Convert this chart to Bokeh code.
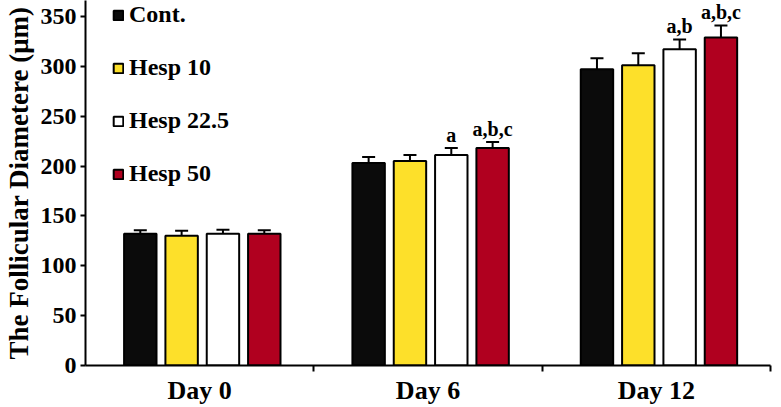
from bokeh.plotting import figure
from bokeh.models import (ColumnDataSource, Whisker, TeeHead, FixedTicker,
                          Legend, LegendItem, Range1d)
from bokeh.core.properties import value
from bokeh.embed import file_html
from bokeh.resources import INLINE

days = ["Day 0", "Day 6", "Day 12"]
groups = ["Cont.", "Hesp 10", "Hesp 22.5", "Hesp 50"]
colors = ["#0b0b0b", "#fde02a", "#ffffff", "#b0001f"]

cont_mean = [132, 203, 297]
hesp10_mean = [130, 205, 301]
hesp225_mean = [132, 211, 317]
hesp50_mean = [132, 218, 329]

cont_err = [3.5, 6, 11]
hesp10_err = [5, 6, 12]
hesp225_err = [4, 7, 10]
hesp50_err = [3.5, 6, 12]

cont_mark = ["", "", ""]
hesp10_mark = ["", "", ""]
hesp225_mark = ["", "a", "a,b"]
hesp50_mark = ["", "a,b,c", "a,b,c"]

y_ticks = [0, 50, 100, 150, 200, 250, 300, 350]

means = [cont_mean, hesp10_mean, hesp225_mean, hesp50_mean]
errs = [cont_err, hesp10_err, hesp225_err, hesp50_err]
marks = [cont_mark, hesp10_mark, hesp225_mark, hesp50_mark]

FONT = "Liberation Serif"
offsets = [-0.26, -0.079, 0.102, 0.283]
bar_w = 0.142

p = figure(width=780, height=407, output_backend="svg", toolbar_location=None,
           x_range=Range1d(0, 3), y_range=Range1d(0, 366),
           min_border_left=82, min_border_right=10, min_border_top=0,
           min_border_bottom=41)
p.background_fill_color = "white"
p.border_fill_color = "white"
p.outline_line_color = None
p.xgrid.visible = False
p.ygrid.visible = False

items = []
for g, col, m, e, mk, off in zip(groups, colors, means, errs, marks, offsets):
    xs = [i + 0.5 + off for i in range(len(days))]
    src = ColumnDataSource(dict(x=xs, top=m,
                                upper=[a + b for a, b in zip(m, e)],
                                lower=[a - b for a, b in zip(m, e)],
                                mark=mk))
    r = p.vbar(x="x", top="top", width=bar_w, bottom=0, source=src,
               fill_color=col, line_color="black", line_width=2)
    items.append(LegendItem(label=g, renderers=[r]))
    w = Whisker(base="x", upper="upper", lower="lower", source=src,
                line_color="black", line_width=2,
                upper_head=TeeHead(size=13, line_width=2, line_color="black"),
                lower_head=TeeHead(size=13, line_width=2, line_color="black"))
    p.add_layout(w)
    p.text(x="x", y="upper", text="mark", source=src,
           text_font=value(FONT), text_font_style="bold",
           text_font_size="20px", text_align="center",
           text_baseline="bottom", y_offset=-2, text_color="black")

legend = Legend(items=items, location=(27, 178), glyph_width=12,
                glyph_height=12, label_text_font=FONT,
                label_text_font_style="bold", label_text_font_size="24px",
                label_text_color="black",
                label_height=20, spacing=26, padding=0, margin=0,
                border_line_alpha=0, background_fill_alpha=0,
                label_standoff=5)
p.add_layout(legend)

# y axis
p.yaxis.ticker = FixedTicker(ticks=y_ticks)
p.yaxis.axis_label = "The Follicular Diametere (μm)"
p.yaxis.axis_label_text_font = FONT
p.yaxis.axis_label_text_font_style = "bold"
p.yaxis.axis_label_text_font_size = "27px"
p.yaxis.axis_label_text_color = "black"
p.yaxis.axis_label_standoff = 4
p.yaxis.major_label_text_font = FONT
p.yaxis.major_label_text_font_style = "bold"
p.yaxis.major_label_text_font_size = "24px"
p.yaxis.major_label_text_color = "black"
p.yaxis.major_label_standoff = 4
p.yaxis.major_tick_out = 5
p.yaxis.major_tick_in = 0
p.yaxis.minor_tick_out = 0
p.yaxis.minor_tick_in = 0
p.yaxis.axis_line_width = 2
p.yaxis.major_tick_line_width = 2
p.yaxis.axis_line_color = "black"
p.yaxis.major_tick_line_color = "black"

# x axis: labels at category centres, tick marks at category boundaries
p.xaxis.ticker = FixedTicker(ticks=[i + 0.5 for i in range(len(days))],
                             minor_ticks=[1, 2, 3])
p.xaxis.major_label_overrides = {i + 0.5: d for i, d in enumerate(days)}
p.xaxis.major_label_text_font = FONT
p.xaxis.major_label_text_font_style = "bold"
p.xaxis.major_label_text_font_size = "26px"
p.xaxis.major_label_text_color = "black"
p.xaxis.major_label_standoff = 4
p.xaxis.major_tick_out = 0
p.xaxis.major_tick_in = 0
p.xaxis.minor_tick_out = 6
p.xaxis.minor_tick_in = 0
p.xaxis.minor_tick_line_width = 2
p.xaxis.minor_tick_line_color = "black"
p.xaxis.axis_line_width = 2
p.xaxis.axis_line_color = "black"

open("out.html", "w").write(file_html(p, INLINE))
